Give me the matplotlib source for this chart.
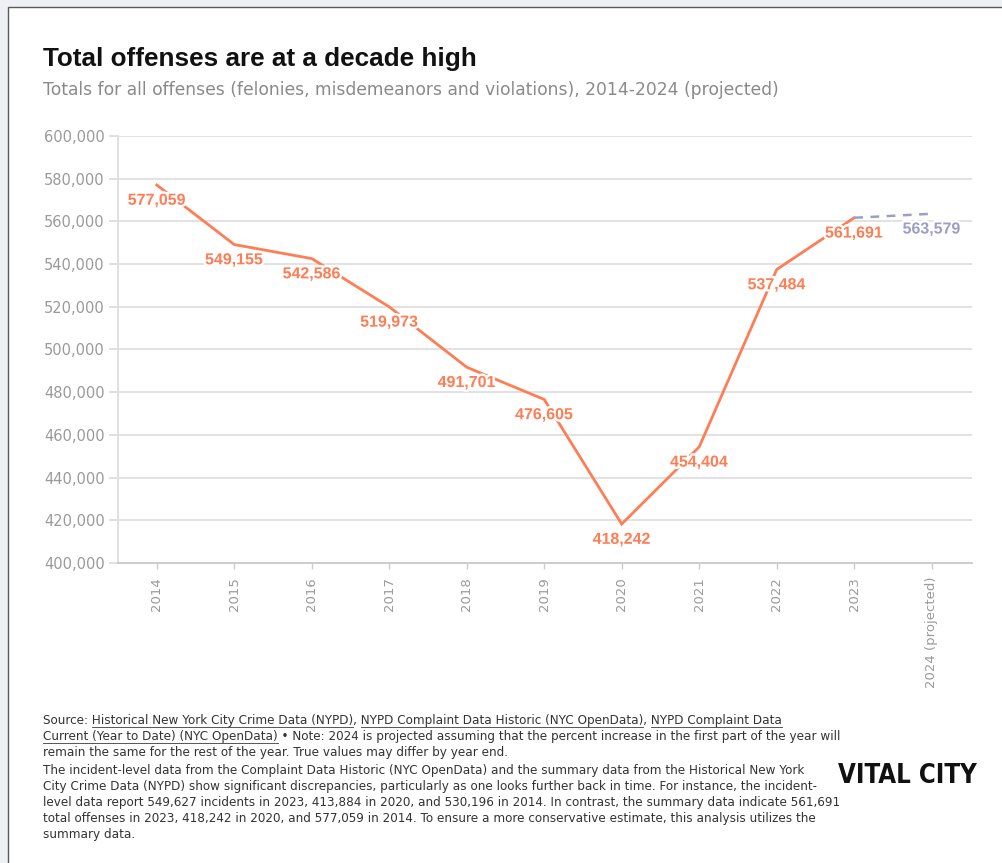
import matplotlib
matplotlib.use("Agg")
import matplotlib.pyplot as plt
import matplotlib.patheffects as pe
from matplotlib.patches import Rectangle
from matplotlib.lines import Line2D
from matplotlib.ticker import FuncFormatter
from matplotlib.font_manager import FontProperties, fontManager

# Data
years = ["2014", "2015", "2016", "2017", "2018", "2019", "2020", "2021", "2022", "2023", "2024 (projected)"]
offenses = [577059, 549155, 542586, 519973, 491701, 476605, 418242, 454404, 537484, 561691]
projected_2024 = 563579

title = "Total offenses are at a decade high"
subtitle = "Totals for all offenses (felonies, misdemeanors and violations), 2014-2024 (projected)"

# footer lines: list of (text, underlined) runs
footer_lines = [
    [("Source: ", False), ("Historical New York City Crime Data (NYPD)", True), (", ", False),
     ("NYPD Complaint Data Historic (NYC OpenData)", True), (", ", False), ("NYPD Complaint Data", True)],
    [("Current (Year to Date) (NYC OpenData)", True),
     (" \u2022 Note: 2024 is projected assuming that the percent increase in the first part of the year will", False)],
    [("remain the same for the rest of the year. True values may differ by year end.", False)],
    [("The incident-level data from the Complaint Data Historic (NYC OpenData) and the summary data from the Historical New York", False)],
    [("City Crime Data (NYPD) show significant discrepancies, particularly as one looks further back in time. For instance, the incident-", False)],
    [("level data report 549,627 incidents in 2023, 413,884 in 2020, and 530,196 in 2014. In contrast, the summary data indicate 561,691", False)],
    [("total offenses in 2023, 418,242 in 2020, and 577,059 in 2014. To ensure a more conservative estimate, this analysis utilizes the", False)],
    [("summary data.", False)],
]
footer_y = [720, 736, 752, 770, 786, 802, 818, 834]

ORANGE = "#ff7d55"
LAVENDER = "#9c9ec6"
W, H = 1002, 863

fig = plt.figure(figsize=(W / 100, H / 100), dpi=100, facecolor="#eef0f4")
renderer = fig.canvas.get_renderer()


def text_width(s, prop):
    w1, _, _ = renderer.get_text_width_height_descent(s + ".", prop, ismath=False)
    w2, _, _ = renderer.get_text_width_height_descent(".", prop, ismath=False)
    return w1 - w2


def fit_size(s, prop, target_px):
    # font size (pt) so that s is target_px wide
    return prop.get_size_in_points() * target_px / text_width(s, prop)


# white card with thin border
fig.add_artist(Rectangle((8 / W, -0.05), 1.1, 1 - 7 / H + 0.05, transform=fig.transFigure,
                         facecolor="white", edgecolor="#5a5a5a", linewidth=1, zorder=0))

ax = fig.add_axes([118 / W, 1 - 563 / H, 854 / W, 427 / H])
ax.set_facecolor("none")

x = list(range(len(offenses)))
ax.plot(x, offenses, color=ORANGE, linewidth=2.0, solid_joinstyle="miter", zorder=3)
ax.plot([x[-1], len(offenses)], [offenses[-1], projected_2024], color=LAVENDER,
        linewidth=1.8, linestyle=(0, (3.5, 3)), zorder=3)

halo = [pe.withStroke(linewidth=3.5, foreground="white")]
for i, v in enumerate(offenses):
    ax.annotate(f"{v:,}", (i, v), xytext=(0, -11), textcoords="offset points",
                ha="center", va="center", color=ORANGE, fontsize=11.5, fontweight="bold",
                family="Liberation Sans", path_effects=halo, zorder=4)
ax.annotate(f"{projected_2024:,}", (len(offenses), projected_2024), xytext=(0, -11),
            textcoords="offset points", ha="center", va="center", color=LAVENDER,
            fontsize=11.5, fontweight="bold", family="Liberation Sans", path_effects=halo, zorder=4)

ax.set_xlim(-0.5, 10.52)
ax.set_ylim(400000, 600000)
ax.set_yticks(range(400000, 600001, 20000))
ax.yaxis.set_major_formatter(FuncFormatter(lambda v, p: f"{int(v):,}"))
ax.set_xticks(range(len(years)))
ax.set_xticklabels(years, rotation=90)

ax.grid(axis="y", color="#e2e2e2", linewidth=1.4)
ax.set_axisbelow(True)
for s in ["top", "right"]:
    ax.spines[s].set_visible(False)
ax.spines["left"].set_color("#e0e0e0")
ax.spines["left"].set_linewidth(1.4)
ax.spines["bottom"].set_color("#cccccc")
ax.spines["bottom"].set_linewidth(1.4)
ax.tick_params(axis="y", length=6.5, width=1.4, color="#e0e0e0", labelcolor="#9a9a9a",
               labelsize=10.5, pad=3)
ax.tick_params(axis="x", length=4.5, width=1, color="#cccccc", labelcolor="#9a9a9a",
               labelsize=9.5, pad=5.5)

# titles
fig.text(43 / W, 1 - 59 / H, title, fontsize=18.8, fontweight="bold", family="Liberation Sans",
         color="#111111", va="center")
sprop = FontProperties(family="DejaVu Sans", size=11)
sprop.set_size(fit_size(subtitle, sprop, 734))
fig.text(43 / W, 1 - 90 / H, subtitle, fontproperties=sprop, color="#8a8a8a", va="center")

# footer with underlined source links; size fitted to the long lines of the reference
fprop = FontProperties(family="DejaVu Sans", size=9)
long_lines = ["".join(r[0] for r in footer_lines[k]) for k in (0, 1, 3, 4, 5, 6)]
fprop.set_size(fit_size("".join(long_lines), fprop, 765 + 797 + 771 + 770 + 786 + 766))

for runs, yc in zip(footer_lines, footer_y):
    full = "".join(r[0] for r in runs)
    fig.text(43 / W, 1 - yc / H, full, fontproperties=fprop, color="#333333", va="center")
    pos = ""
    for txt, ul in runs:
        if ul:
            x0 = 43 + text_width(pos, fprop)
            x1 = x0 + text_width(txt, fprop)
            fig.add_artist(Line2D([x0 / W, x1 / W], [1 - (yc + 6.5) / H] * 2,
                                  transform=fig.transFigure, color="#555555", linewidth=0.7))
        pos += txt

# logo: prefer a condensed bold face if one is installed
logo = "VITAL CITY"
cond = [f.fname for f in fontManager.ttflist
        if f.weight in ("bold", 700, "heavy", 800, 900, "black")
        and (f.stretch in ("condensed", "semi-condensed", "extra-condensed")
             or "Narrow" in f.name or "Condensed" in f.name)]
lprop = FontProperties(fname=cond[0]) if cond else FontProperties(family="Liberation Sans", weight="bold")
lprop.set_size(20)
lprop.set_size(fit_size(logo, lprop, 134))
fig.text(977 / W, 1 - 776 / H, logo, fontproperties=lprop, color="#111111", ha="right", va="center")

fig.savefig("out.png", dpi=100, facecolor=fig.get_facecolor())
